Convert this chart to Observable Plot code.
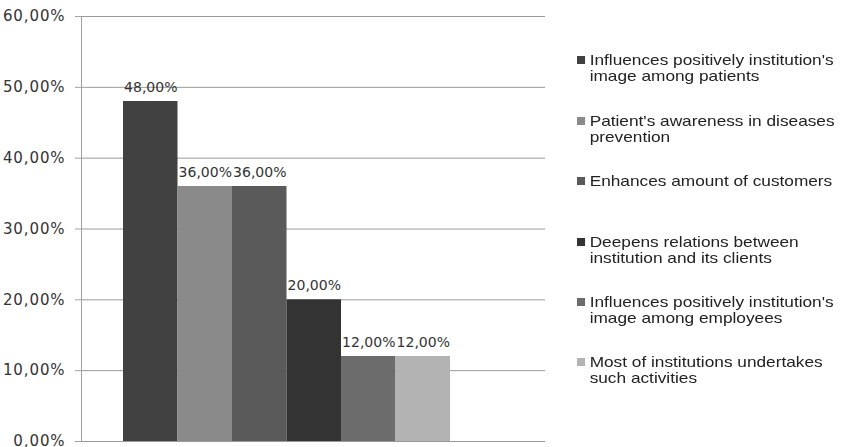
<!DOCTYPE html>
<html>
<head>
<meta charset="utf-8">
<script src="https://cdn.jsdelivr.net/npm/d3@7"></script>
<script src="https://cdn.jsdelivr.net/npm/@observablehq/plot@0.6"></script>
<style>
  body { margin: 0; background: #fff; }
  #wrap { position: relative; width: 841px; height: 447px; overflow: hidden; }
  #legend { position: absolute; left: 577px; top: 52px; font-family: "Liberation Sans", sans-serif; font-size: 15px; color: #222; transform: scaleX(1.15); transform-origin: 0 0; }
  .item { position: absolute; left: 0; width: 270px; line-height: 16px; padding-left: 11px; white-space: nowrap; }
  .sw { position: absolute; left: 0; top: 4px; width: 7px; height: 8px; }
</style>
</head>
<body>
<div id="wrap"><div id="legend"></div></div>
<script>
const categories = [
  "Influences positively institution's image among patients",
  "Patient's awareness in diseases prevention",
  "Enhances amount of customers",
  "Deepens relations between institution and its clients",
  "Influences positively institution's image among employees",
  "Most of institutions undertakes such activities"
];
const legendLines = [
  ["Influences positively institution's", "image among patients"],
  ["Patient's awareness in diseases", "prevention"],
  ["Enhances amount of customers"],
  ["Deepens relations between", "institution and its clients"],
  ["Influences positively institution's", "image among employees"],
  ["Most of institutions undertakes", "such activities"]
];
const values = [0.48, 0.36, 0.36, 0.20, 0.12, 0.12];
const colors = ["#414141", "#8a8a8a", "#5a5a5a", "#333333", "#6c6c6c", "#b3b3b3"];
const yTicks = [0, 0.1, 0.2, 0.3, 0.4, 0.5, 0.6];

const data = categories.map((c, i) => ({cat: c, value: values[i]}));
const fmt = v => (v * 100).toFixed(2).replace(".", ",") + "%";

const chart = Plot.plot({
  width: 841,
  height: 447,
  marginTop: 16,
  marginBottom: 6,
  marginLeft: 81,
  marginRight: 296,
  style: {fontFamily: "DejaVu Sans, sans-serif", fontSize: "15px", color: "#333", background: "#fff"},
  x: {domain: categories, range: [123, 450], padding: 0, round: false, axis: null},
  y: {domain: [0, 0.6], ticks: yTicks, axis: null, label: null},
  color: {domain: categories, range: colors},
  marks: [
    Plot.gridY(yTicks, {stroke: "#9a9a9a", strokeOpacity: 1, strokeWidth: 1}),
    Plot.barY(data, {x: "cat", y: "value", fill: "cat", inset: 0}),
    Plot.text(data, {x: "cat", y: "value", text: d => fmt(d.value), dy: -14, fontSize: 14, fill: "#333", fontFamily: "DejaVu Sans", style: "letter-spacing:0.3px"}),
    Plot.frame({anchor: "left", stroke: "#a0a0a0"}),
    Plot.axisY(yTicks, {tickFormat: fmt, tickSize: 6, tickPadding: 10, stroke: "#a0a0a0", fill: "#333", fontSize: 15, label: null})
  ]
});
chart.querySelectorAll("[aria-label='y-axis tick label'] text").forEach(t => t.setAttribute("letter-spacing", "0.9"));
document.getElementById("wrap").prepend(chart);
chart.style.position = "absolute";
chart.style.left = "0";
chart.style.top = "0";

const legend = document.getElementById("legend");
const tops = [0, 60.5, 121, 182, 242, 302];
legendLines.forEach((lines, i) => {
  const it = document.createElement("div");
  it.className = "item";
  it.style.top = tops[i] + "px";
  const sw = document.createElement("div");
  sw.className = "sw";
  sw.style.background = colors[i];
  it.appendChild(sw);
  lines.forEach(l => { const d = document.createElement("div"); d.textContent = l; it.appendChild(d); });
  legend.appendChild(it);
});
</script>
</body>
</html>
